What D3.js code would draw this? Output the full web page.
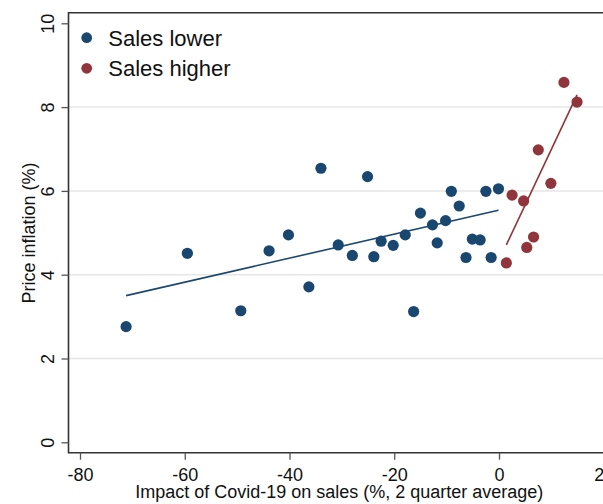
<!DOCTYPE html>
<html>
<head>
<meta charset="utf-8">
<script src="https://cdn.jsdelivr.net/npm/d3@7"></script>
<style>
  html, body { margin: 0; padding: 0; background: #fff; }
  svg { display: block; }
  text { font-family: "Liberation Sans", Arial, sans-serif; fill: #111; }
</style>
</head>
<body>
<svg id="chart" width="603" height="504"></svg>
<script>
// ---- data ----
const lowerX = [-71.2, -59.5, -49.3, -43.9, -40.2, -36.3, -34.0, -30.7, -28.0, -25.1, -23.9, -22.5, -20.2, -17.9, -16.3, -15.0, -12.7, -11.8, -10.2, -9.1, -7.6, -6.3, -5.1, -3.6, -2.5, -1.5, -0.1];
const lowerY = [2.76, 4.51, 3.14, 4.57, 4.95, 3.71, 6.54, 4.71, 4.46, 6.34, 4.43, 4.80, 4.70, 4.95, 3.12, 5.47, 5.19, 4.76, 5.29, 5.99, 5.64, 4.41, 4.85, 4.83, 5.99, 4.41, 6.05];
const higherX = [1.4, 2.5, 4.7, 5.3, 6.6, 7.5, 9.9, 12.4, 14.9];
const higherY = [4.28, 5.90, 5.76, 4.65, 4.90, 6.98, 6.18, 8.59, 8.12];
const lowerFitX = [-71.2, -0.1];
const lowerFitY = [3.50, 5.54];
const higherFitX = [1.4, 14.9];
const higherFitY = [4.71, 8.29];
const xTicks = [-80, -60, -40, -20, 0, 20];
const yTicks = [0, 2, 4, 6, 8, 10];
const gridTicks = [2, 4, 6, 8];
const seriesNames = ["Sales lower", "Sales higher"];
const seriesColors = ["#1a476f", "#90353b"];

// ---- scales ----
const x = d3.scaleLinear().domain([-80, 20]).range([80, 603.75]);
const y = d3.scaleLinear().domain([0, 10]).range([442.3, 23.3]);

const svg = d3.select("#chart");
svg.append("rect").attr("width", 603).attr("height", 504).attr("fill", "#fff");

const frameL = 68.5, frameT = 12.7, frameB = 452.7, frameR = 640;
const fmt = d => String(d);

// gridlines
svg.append("g").selectAll("line").data(gridTicks).join("line")
  .attr("x1", frameL).attr("x2", frameR)
  .attr("y1", d => y(d)).attr("y2", d => y(d))
  .attr("stroke", "#e6e6e6").attr("stroke-width", 1.5);

// frame
svg.append("path")
  .attr("d", `M${frameR},${frameT}H${frameL}V${frameB}H${frameR}`)
  .attr("fill", "none").attr("stroke", "#333").attr("stroke-width", 1.6);

// y axis
const yAxis = d3.axisLeft(y).tickValues(yTicks).tickSize(7).tickPadding(0).tickFormat(fmt);
const gy = svg.append("g").attr("transform", `translate(${frameL},0)`).call(yAxis);
gy.select(".domain").remove();
gy.selectAll(".tick line").attr("stroke", "#555").attr("stroke-width", 1.3);
gy.selectAll(".tick text")
  .attr("x", 0).attr("dy", null).attr("y", 0)
  .attr("transform", "translate(-14.5,0) rotate(-90)")
  .attr("text-anchor", "middle")
  .style("font-size", "18px").style("fill", "#111");

// x axis
const xAxis = d3.axisBottom(x).tickValues(xTicks).tickSize(7).tickPadding(0).tickFormat(fmt);
const gx = svg.append("g").attr("transform", `translate(0,${frameB})`).call(xAxis);
gx.select(".domain").remove();
gx.selectAll(".tick line").attr("stroke", "#555").attr("stroke-width", 1.3);
gx.selectAll(".tick text")
  .attr("y", 28).attr("dy", null)
  .style("font-size", "18px").style("fill", "#111");

// axis titles
svg.append("text")
  .attr("x", x(-30.5)).attr("y", 497.5)
  .attr("text-anchor", "middle").style("font-size", "18px")
  .text("Impact of Covid-19 on sales (%, 2 quarter average)");
svg.append("text")
  .attr("transform", "translate(35,233) rotate(-90)")
  .attr("text-anchor", "middle").style("font-size", "18px")
  .text("Price inflation (%)");

// fit lines
const line = d3.line().x(d => x(d[0])).y(d => y(d[1]));
svg.append("path").datum(d3.zip(lowerFitX, lowerFitY)).attr("d", line)
  .attr("fill", "none").attr("stroke", seriesColors[0]).attr("stroke-width", 1.6);
svg.append("path").datum(d3.zip(higherFitX, higherFitY)).attr("d", line)
  .attr("fill", "none").attr("stroke", seriesColors[1]).attr("stroke-width", 1.6);

// points
svg.append("g").selectAll("circle").data(d3.zip(lowerX, lowerY)).join("circle")
  .attr("cx", d => x(d[0])).attr("cy", d => y(d[1])).attr("r", 5.6)
  .attr("fill", seriesColors[0]);
svg.append("g").selectAll("circle").data(d3.zip(higherX, higherY)).join("circle")
  .attr("cx", d => x(d[0])).attr("cy", d => y(d[1])).attr("r", 5.6)
  .attr("fill", seriesColors[1]);

// legend
const leg = svg.append("g");
seriesNames.forEach((name, i) => {
  const cy = 37.7 + i * 30.6;
  leg.append("circle").attr("cx", 86.7).attr("cy", cy).attr("r", 5.4).attr("fill", seriesColors[i]);
  leg.append("text").attr("x", 108.3).attr("y", cy + 7.9)
    .style("font-size", "22px").text(name);
});
</script>
</body>
</html>
